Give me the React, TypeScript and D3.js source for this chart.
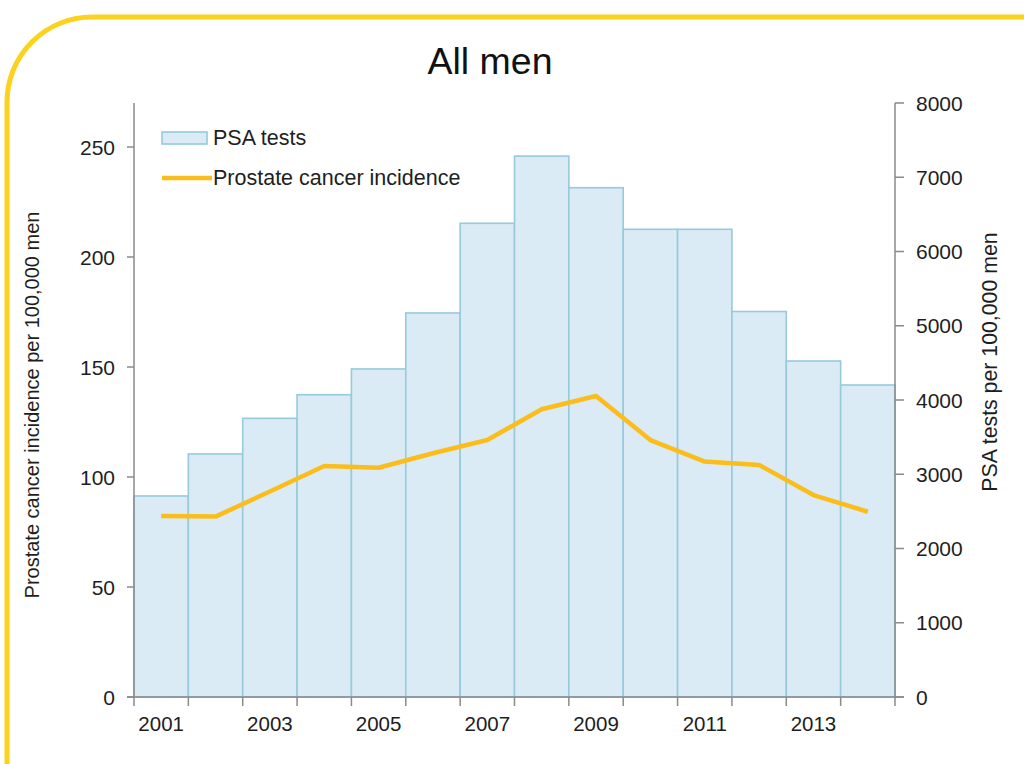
import React from "react";
import * as d3 from "d3";

const years = [2001, 2002, 2003, 2004, 2005, 2006, 2007, 2008, 2009, 2010, 2011, 2012, 2013, 2014];
const psaTests = [2707, 3273, 3753, 4071, 4418, 5172, 6380, 7285, 6859, 6299, 6299, 5192, 4525, 4202];
const incidence = [82.3, 82.0, 93.4, 105.0, 104.2, 110.8, 116.8, 130.8, 136.8, 116.8, 107.0, 105.5, 91.8, 84.2];
const leftTicks = [0, 50, 100, 150, 200, 250];
const rightTicks = [0, 1000, 2000, 3000, 4000, 5000, 6000, 7000, 8000];
const xLabelYears = [2001, 2003, 2005, 2007, 2009, 2011, 2013];

const W = 1024;
const H = 764;
const plotLeft = 134;
const plotRight = 895;
const plotTop = 103;
const plotBottom = 697;
const FONT = "'Liberation Sans', Arial, Helvetica, sans-serif";
const TEXT = "#1e1e1e";
const AXIS = "#8a8a8a";
const BAR_FILL = "#dbebf5";
const BAR_STROKE = "#97cadb";
const LINE = "#fbbd1b";
const BORDER = "#fdd21e";

export default function App() {
  const x = d3.scaleBand<number>().domain(years).range([plotLeft, plotRight]).padding(0);
  const yL = d3.scaleLinear().domain([0, 270]).range([plotBottom, plotTop]);
  const yR = d3.scaleLinear().domain([0, 8000]).range([plotBottom, plotTop]);
  const bw = x.bandwidth();

  const line = d3
    .line<number>()
    .x((_, i) => (x(years[i]) as number) + bw / 2)
    .y((d) => yL(d));

  const r = 85;
  const bx = 7;
  const by = 17;
  const borderPath = `M${bx},${H + 10} L${bx},${by + r} A${r},${r} 0 0 1 ${bx + r},${by} L${W + 10},${by}`;

  return (
    <svg
      width={W}
      height={H}
      style={{ position: "absolute", left: 0, top: 0, display: "block", background: "#fff" }}
      fontFamily={FONT}
    >
      <path d={borderPath} fill="none" stroke={BORDER} strokeWidth={5} />

      <text x={490} y={74} textAnchor="middle" fontSize={37.5} fill="#111">
        All men
      </text>

      {/* bars */}
      {psaTests.map((v, i) => (
        <rect
          key={years[i]}
          x={x(years[i]) as number}
          y={yR(v)}
          width={bw}
          height={plotBottom - yR(v)}
          fill={BAR_FILL}
          stroke={BAR_STROKE}
          strokeWidth={1.6}
        />
      ))}

      {/* line */}
      <path d={line(incidence) || ""} fill="none" stroke={LINE} strokeWidth={4.5} strokeLinejoin="round" />

      {/* left axis */}
      <line x1={plotLeft} x2={plotLeft} y1={plotTop} y2={plotBottom} stroke={AXIS} strokeWidth={1.5} />
      {leftTicks.map((t) => (
        <g key={t}>
          <line x1={plotLeft - 7} x2={plotLeft} y1={yL(t)} y2={yL(t)} stroke={AXIS} strokeWidth={1.5} />
          <text x={115} y={yL(t) + 7.5} textAnchor="end" fontSize={21} fill={TEXT}>
            {t}
          </text>
        </g>
      ))}

      {/* right axis */}
      <line x1={plotRight} x2={plotRight} y1={plotTop} y2={plotBottom} stroke={AXIS} strokeWidth={1.5} />
      {rightTicks.map((t) => (
        <g key={t}>
          <line x1={plotRight} x2={plotRight + 9} y1={yR(t)} y2={yR(t)} stroke={AXIS} strokeWidth={1.5} />
          <text x={916} y={yR(t) + 7.5} textAnchor="start" fontSize={21} fill={TEXT}>
            {t}
          </text>
        </g>
      ))}

      {/* x axis */}
      <line x1={plotLeft - 7} x2={plotRight + 9} y1={plotBottom} y2={plotBottom} stroke={AXIS} strokeWidth={1.5} />
      {years.concat([2015]).map((yr, i) => {
        const px = i < years.length ? (x(yr) as number) : plotRight;
        return <line key={yr} x1={px} x2={px} y1={plotBottom} y2={plotBottom + 9} stroke={AXIS} strokeWidth={1.5} />;
      })}
      {xLabelYears.map((yr) => (
        <text key={yr} x={(x(yr) as number) + bw / 2} y={731} textAnchor="middle" fontSize={20.5} fill={TEXT}>
          {yr}
        </text>
      ))}

      {/* axis titles */}
      <text
        transform={`translate(39, 405) rotate(-90)`}
        textAnchor="middle"
        fontSize={20}
        fill={TEXT}
      >
        Prostate cancer incidence per 100,000 men
      </text>
      <text
        transform={`translate(997, 362) rotate(-90)`}
        textAnchor="middle"
        fontSize={21.3}
        fill={TEXT}
      >
        PSA tests per 100,000 men
      </text>

      {/* legend */}
      <rect x={162} y={132} width={45} height={12} fill={BAR_FILL} stroke={BAR_STROKE} strokeWidth={1.6} />
      <text x={213} y={145} fontSize={21.5} fill={TEXT}>
        PSA tests
      </text>
      <line x1={162} x2={212} y1={178} y2={178} stroke={LINE} strokeWidth={4.5} />
      <text x={213} y={185} fontSize={21.5} fill={TEXT}>
        Prostate cancer incidence
      </text>
    </svg>
  );
}
